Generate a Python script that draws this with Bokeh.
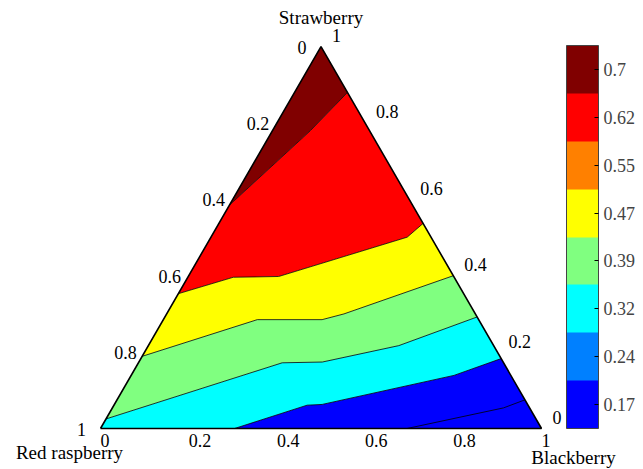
import numpy as np
from bokeh.plotting import figure
from bokeh.models import (ColumnDataSource, LinearColorMapper, ColorBar, FixedTicker,
                          CustomJSTickFormatter, Range1d)
from bokeh.core.properties import value
from bokeh.embed import file_html
from bokeh.resources import INLINE

# ---------------- data ----------------
axis_top = "Strawberry"
axis_left = "Red raspberry"
axis_right = "Blackberry"

tick_vals = [0, 0.2, 0.4, 0.6, 0.8, 1]
tick_text = ["0", "0.2", "0.4", "0.6", "0.8", "1"]

palette = ["#0000ff", "#0080ff", "#00ffff", "#80ff80",
           "#ffff00", "#ff8000", "#ff0000", "#800000"]
cbar_low, cbar_high = 0.13, 0.736
cbar_labels = ["0.17", "0.24", "0.32", "0.39", "0.47", "0.55", "0.62", "0.7"]

# contour boundaries as (strawberry, blackberry) fractions
c_a_s = [0.585, 0.780, 0.880]
c_a_b = [0.000, 0.086, 0.120]
c_b_s = [0.353, 0.396, 0.398, 0.501, 0.537]
c_b_b = [0.000, 0.103, 0.205, 0.445, 0.463]
c_c_s = [0.189, 0.285, 0.285, 0.300, 0.400]
c_c_b = [0.000, 0.213, 0.360, 0.402, 0.600]
c_d_s = [0.025, 0.172, 0.174, 0.217, 0.292]
c_d_b = [0.000, 0.326, 0.416, 0.568, 0.708]
c_e_s = [0.000, 0.061, 0.063, 0.139, 0.183]
c_e_b = [0.304, 0.438, 0.471, 0.732, 0.817]
c_f_s = [0.000, 0.054, 0.075]
c_f_b = [0.695, 0.887, 0.925]

# value of each filled region (top to bottom)
region_vals = [0.70, 0.625, 0.47, 0.395, 0.32, 0.17]

# ---------------- helpers ----------------
R3 = np.sqrt(3) / 2


def to_xy(s, b):
    s = np.asarray(s, float)
    b = np.asarray(b, float)
    return list(b + s / 2), list(s * R3)


A = list(zip(c_a_s, c_a_b))
B = list(zip(c_b_s, c_b_b))
C = list(zip(c_c_s, c_c_b))
D = list(zip(c_d_s, c_d_b))
E = list(zip(c_e_s, c_e_b))
F = list(zip(c_f_s, c_f_b))
apex = [(1.0, 0.0)]
bl = [(0.0, 0.0)]
br = [(0.0, 1.0)]

polys = [
    A + apex,
    B + A[::-1],
    C + B[::-1],
    D + C[::-1],
    bl + E + D[::-1],
    E + br,
]
xs, ys = [], []
for poly in polys:
    s, b = zip(*poly)
    x, y = to_xy(s, b)
    xs.append(x)
    ys.append(y)

mapper = LinearColorMapper(palette=palette, low=cbar_low, high=cbar_high)

# ---------------- figure ----------------
W, H = 643, 469
SC = 441.0
x0 = -100 / SC
y0 = -41 / SC
p = figure(width=W, height=H, output_backend="svg", toolbar_location=None,
           x_range=Range1d(x0, x0 + W / SC), y_range=Range1d(y0, y0 + H / SC),
           x_axis_location=None, y_axis_location=None, min_border=0)
p.grid.visible = False
p.outline_line_color = None
p.background_fill_color = "white"

src = ColumnDataSource(dict(xs=xs, ys=ys, val=region_vals))
p.patches("xs", "ys", source=src, fill_color={"field": "val", "transform": mapper},
          line_color=None)

lxs, lys = [], []
for line in (A, B, C, D, E, F):
    s, b = zip(*line)
    x, y = to_xy(s, b)
    lxs.append(x)
    lys.append(y)
p.multi_line(lxs, lys, line_color="black", line_width=0.8)

# triangle outline
tx, ty = to_xy([0, 0, 1, 0], [0, 1, 0, 0])
p.line(tx, ty, line_color="black", line_width=1.6)

FONT = value("Liberation Serif")
tv = np.array(tick_vals, float)

# bottom (Blackberry)
bx, by = to_xy(np.zeros_like(tv), tv)
p.text(bx, by, text=tick_text, text_font=FONT, text_font_size="18px",
       text_align="left", text_baseline="alphabetic", y_offset=12)
# left (Red raspberry): r = t on left edge
lx, ly = to_xy(1 - tv, np.zeros_like(tv))
p.text(lx, ly, text=tick_text, text_font=FONT, text_font_size="18px",
       text_align="center", text_baseline="alphabetic", x_offset=-19, y_offset=0.5)
# right (Strawberry): s = t on right edge
rx, ry = to_xy(tv, 1 - tv)
p.text(rx, ry, text=tick_text, text_font=FONT, text_font_size="18px",
       text_align="left", text_baseline="alphabetic", x_offset=11, y_offset=-11)

# axis titles
p.text([0.5], [R3], text=[axis_top], text_font=FONT, text_font_size="19px",
       text_align="center", text_baseline="alphabetic", y_offset=-29.5)
p.text([0.0], [0.0], text=[axis_left], text_font=FONT, text_font_size="19px",
       text_align="center", text_baseline="alphabetic", x_offset=-31, y_offset=23.5)
p.text([1.0], [0.0], text=[axis_right], text_font=FONT, text_font_size="19px",
       text_align="center", text_baseline="alphabetic", x_offset=32, y_offset=28.5)

# colour bar
step = (cbar_high - cbar_low) / len(palette)
centers = [cbar_low + step * (i + 0.5) for i in range(len(palette))]
cb = ColorBar(color_mapper=mapper, width=32, height=383, location=(566, 41),
              padding=0, margin=0,
              ticker=FixedTicker(ticks=centers),
              formatter=CustomJSTickFormatter(args=dict(labels=cbar_labels),
                                              code="return labels[index];"),
              major_tick_in=4, major_tick_out=0, major_tick_line_color="black",
              minor_tick_line_color=None,
              label_standoff=5, bar_line_color="#444444", bar_line_width=1,
              major_label_text_font="Liberation Serif",
              major_label_text_font_size="18px",
              background_fill_color=None, border_line_color=None)
p.add_layout(cb, "center")

open("out.html", "w").write(file_html(p, INLINE))
